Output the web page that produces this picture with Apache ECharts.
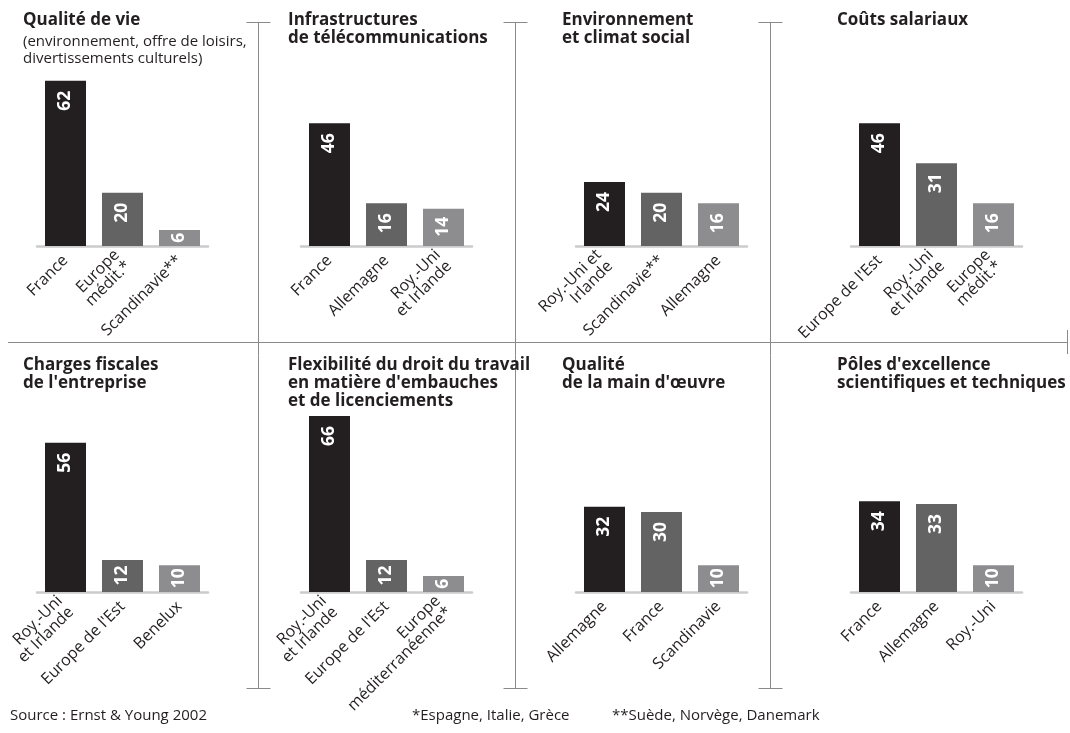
<!DOCTYPE html>
<html>
<head>
<meta charset="utf-8">
<script src="https://cdn.jsdelivr.net/npm/echarts@6/dist/echarts.min.js"></script>
<style>
  html, body { margin: 0; padding: 0; background: #fff; }
  #chart { width: 1070px; height: 733px; }
</style>
</head>
<body>
<div id="chart"></div>
<script>
// Panel titles (top row then bottom row)
const panelTitles = [
  'Qualité de vie',
  'Infrastructures\nde télécommunications',
  'Environnement\net climat social',
  'Coûts salariaux',
  'Charges fiscales\nde l\'entreprise',
  'Flexibilité du droit du travail\nen matière d\'embauches\net de licenciements',
  'Qualité\nde la main d\'œuvre',
  'Pôles d\'excellence\nscientifiques et techniques'
];
const qualiteVieSubtitle = '(environnement, offre de loisirs,\ndivertissements culturels)';

// Categories and values for each panel
const qualiteVieCats = ['France', 'Europe\nmédit.*', 'Scandinavie**'];
const qualiteVieVals = [62, 20, 6];
const telecomCats = ['France', 'Allemagne', 'Roy.-Uni\net Irlande'];
const telecomVals = [46, 16, 14];
const climatCats = ['Roy.-Uni et\nIrlande', 'Scandinavie**', 'Allemagne'];
const climatVals = [24, 20, 16];
const coutsCats = ['Europe de l\'Est', 'Roy.-Uni\net Irlande', 'Europe\nmédit.*'];
const coutsVals = [46, 31, 16];
const fiscalCats = ['Roy.-Uni\net Irlande', 'Europe de l\'Est', 'Benelux'];
const fiscalVals = [56, 12, 10];
const flexCats = ['Roy.-Uni\net Irlande', 'Europe de l\'Est', 'Europe\nméditerranéenne*'];
const flexVals = [66, 12, 6];
const mainOeuvreCats = ['Allemagne', 'France', 'Scandinavie'];
const mainOeuvreVals = [32, 30, 10];
const polesCats = ['France', 'Allemagne', 'Roy.-Uni'];
const polesVals = [34, 33, 10];

const sourceText = 'Source : Ernst & Young 2002';
const noteMedit = '*Espagne, Italie, Grèce';
const noteScandi = '**Suède, Norvège, Danemark';

const panelCats = [qualiteVieCats, telecomCats, climatCats, coutsCats,
                   fiscalCats, flexCats, mainOeuvreCats, polesCats];
const panelVals = [qualiteVieVals, telecomVals, climatVals, coutsVals,
                   fiscalVals, flexVals, mainOeuvreVals, polesVals];

// Layout
const FONT = '"Open Sans", "Noto Sans", sans-serif';
const INK = '#231f20';
const barColors = ['#231f20', '#636364', '#8d8d8f'];
const axisLeft = [37, 301, 576, 851];
const titleLeft = [23, 288, 562, 837];
const baseline = [246, 592];
const titleTop = [11, 356];
const plotW = 171, plotH = 200, yMax = 75;
const pxPerUnit = plotH / yMax;

const chart = echarts.init(document.getElementById('chart'), null, { renderer: 'canvas' });

const grids = [], xAxes = [], yAxes = [], series = [], titles = [];
for (let i = 0; i < 8; i++) {
  const col = i % 4, row = Math.floor(i / 4);
  grids.push({ left: axisLeft[col], width: plotW, top: baseline[row] - plotH, height: plotH });
  xAxes.push({
    type: 'category', gridIndex: i, data: panelCats[i],
    axisLine: { show: true, lineStyle: { color: '#cbcbcb', width: 2.5 } },
    axisTick: { show: false },
    axisLabel: {
      rotate: 45, interval: 0, margin: 12, color: INK,
      align: 'right', verticalAlign: 'middle',
      fontFamily: FONT, fontSize: 16, lineHeight: 16
    },
    z: 1
  });
  yAxes.push({ type: 'value', gridIndex: i, min: 0, max: yMax, show: false });
  series.push({
    type: 'bar', xAxisIndex: i, yAxisIndex: i, barWidth: 41,
    z: 3,
    data: panelVals[i].map((v, k) => {
      const h = v * pxPerUnit;
      const len = String(v).length * 10.5;
      return {
        value: v,
        itemStyle: { color: barColors[k] },
        label: { distance: Math.max(0, Math.min(10, (h - len) / 2)) }
      };
    }),
    label: {
      show: true, position: 'insideTop', rotate: 90,
      align: 'right', verticalAlign: 'middle',
      color: '#ffffff', fontFamily: FONT, fontWeight: 'bold', fontSize: 17.5
    }
  });
  titles.push({
    text: panelTitles[i],
    subtext: i === 0 ? qualiteVieSubtitle : '',
    left: titleLeft[col], top: titleTop[row], padding: 0, itemGap: 4,
    textStyle: { fontFamily: FONT, fontWeight: 'bold', fontSize: 17, lineHeight: 18, color: INK },
    subtextStyle: { fontFamily: FONT, fontSize: 15, lineHeight: 17, color: INK }
  });
}

// Frame lines between panels
const frame = { stroke: '#8a8a8a', lineWidth: 1 };
const graphics = [];
[258.5, 515.5, 770.5].forEach(x => {
  graphics.push({ type: 'line', shape: { x1: x, y1: 22, x2: x, y2: 689 }, style: frame, silent: true });
  graphics.push({ type: 'line', shape: { x1: x - 12, y1: 22.5, x2: x + 12, y2: 22.5 }, style: frame, silent: true });
  graphics.push({ type: 'line', shape: { x1: x - 12, y1: 688.5, x2: x + 12, y2: 688.5 }, style: frame, silent: true });
});
graphics.push({ type: 'line', shape: { x1: 8, y1: 342.5, x2: 1068, y2: 342.5 }, style: frame, silent: true });
graphics.push({ type: 'line', shape: { x1: 1067.5, y1: 330, x2: 1067.5, y2: 354 }, style: frame, silent: true });

// Footnotes
const noteStyle = { fontFamily: FONT, fontSize: 15, fill: INK };
graphics.push({ type: 'text', left: 10, top: 708, style: Object.assign({ text: sourceText }, noteStyle) });
graphics.push({ type: 'text', left: 412, top: 708, style: Object.assign({ text: noteMedit }, noteStyle) });
graphics.push({ type: 'text', left: 612, top: 708, style: Object.assign({ text: noteScandi }, noteStyle) });

chart.setOption({
  animation: false,
  backgroundColor: '#ffffff',
  title: titles,
  grid: grids,
  xAxis: xAxes,
  yAxis: yAxes,
  series: series,
  graphic: graphics
});
</script>
</body>
</html>
